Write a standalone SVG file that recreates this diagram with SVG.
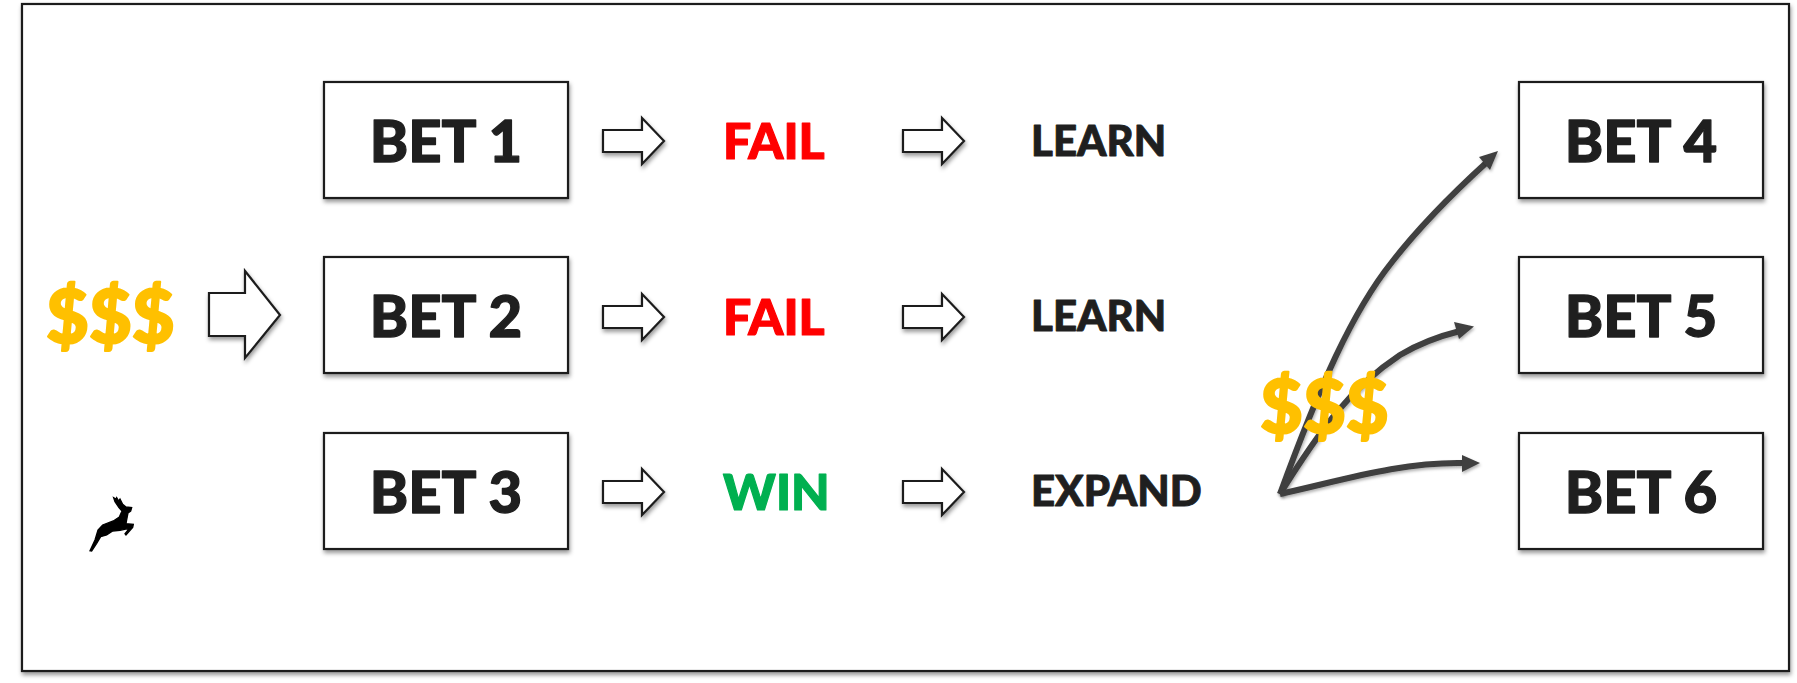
<svg xmlns="http://www.w3.org/2000/svg" width="1797" height="683" viewBox="0 0 1797 683">
<style>
text{font-family:Lato,"Liberation Sans",sans-serif;font-weight:900;stroke-linejoin:round}
.bet{font-size:58px;fill:#1f1f1f;stroke:#1f1f1f;stroke-width:1.3;text-anchor:middle}
.box{fill:#fff;stroke:#1f1f1f;stroke-width:2.2;filter:url(#sh)}
.ar{fill:#fff;stroke:#1f1f1f;stroke-width:2.2;filter:url(#sh)}
.res{font-size:50px;stroke-width:1.2}
.act{font-size:42px;fill:#1f1f1f;stroke:#1f1f1f;stroke-width:.9}
.usd{font-size:74px;fill:#FFC000;stroke:#FFC000;stroke-width:2}
.cv{fill:none;stroke:#404040;stroke-width:6;filter:url(#sh2)}
.hd{fill:#404040;filter:url(#sh2)}
</style>
<defs>
<filter id="sh" x="-10%" y="-10%" width="125%" height="130%"><feDropShadow dx="1" dy="3" stdDeviation="2.2" flood-color="#000" flood-opacity=".4"/></filter>
<filter id="sh2" x="-20%" y="-20%" width="140%" height="140%"><feDropShadow dx="1" dy="2" stdDeviation="1.5" flood-color="#000" flood-opacity=".3"/></filter>
<path id="sa" class="ar" d="M0,-11H39V-23L61,0L39,23V11H0Z"/>
</defs>
<rect id="frame" x="22" y="4" width="1767" height="667" class="box"/>
<g id="connectors">
<use href="#sa" x="603" y="141"/><use href="#sa" x="903" y="141"/>
<use href="#sa" x="603" y="317"/><use href="#sa" x="903" y="317"/>
<use href="#sa" x="603" y="492"/><use href="#sa" x="903" y="492"/>
<path id="big-arrow" class="ar" d="M209,293H245V271L280,315L245,358V336H209Z"/>
<path class="cv" d="M1280,494C1320,385 1352,312 1392,262C1420,226 1452,194 1486,163"/>
<path class="hd" d="M1498,151L1490,170L1479,157Z"/>
<path class="cv" d="M1280,494C1320,430 1350,388 1400,355C1420,343 1440,336 1460,331"/>
<path class="hd" d="M1474,326.500L1459,339L1454,322Z"/>
<path class="cv" d="M1280,494C1340,481 1400,462 1462,463"/>
<path class="hd" d="M1480,463L1462,455L1462,472Z"/>
</g>
<g id="bet1"><rect class="box" x="324" y="82" width="244" height="116"/><text class="bet" x="446" y="162">BET 1</text></g>
<g id="bet2"><rect class="box" x="324" y="257" width="244" height="116"/><text class="bet" x="446" y="337">BET 2</text></g>
<g id="bet3"><rect class="box" x="324" y="433" width="244" height="116"/><text class="bet" x="446" y="513">BET 3</text></g>
<g id="bet4"><rect class="box" x="1519" y="82" width="244" height="116"/><text class="bet" x="1641" y="162">BET 4</text></g>
<g id="bet5"><rect class="box" x="1519" y="257" width="244" height="116"/><text class="bet" x="1641" y="337">BET 5</text></g>
<g id="bet6"><rect class="box" x="1519" y="433" width="244" height="116"/><text class="bet" x="1641" y="513">BET 6</text></g>
<g id="result1"><text class="res" x="723" y="159" fill="#ff0000" stroke="#ff0000">FAIL</text></g>
<g id="result2"><text class="res" x="723" y="335" fill="#ff0000" stroke="#ff0000">FAIL</text></g>
<g id="result3"><text class="res" x="723" y="510" fill="#00b050" stroke="#00b050">WIN</text></g>
<g id="action1"><text class="act" x="1031" y="156">LEARN</text></g>
<g id="action2"><text class="act" x="1031" y="331">LEARN</text></g>
<g id="action3"><text class="act" x="1031" y="506">EXPAND</text></g>
<g id="money1"><text class="usd" x="46" y="343">$$$</text></g>
<g id="money2"><text class="usd" x="1260" y="433">$$$</text></g>
<g id="deer"><path transform="translate(70 485) scale(.3333)" fill="#000" stroke="#000" stroke-width="4" d="M60,197L75,165L84,135L98,120L130,108L148,96L156,78L147,68L135,50L131,38L138,42L140,38L146,48L150,42L158,58L168,66L185,68L182,78L174,84L170,105L168,116L190,118L188,127L168,150L165,146L178,130L150,136L128,138L110,150L92,155L80,175L65,198Z"/></g>
</svg>
